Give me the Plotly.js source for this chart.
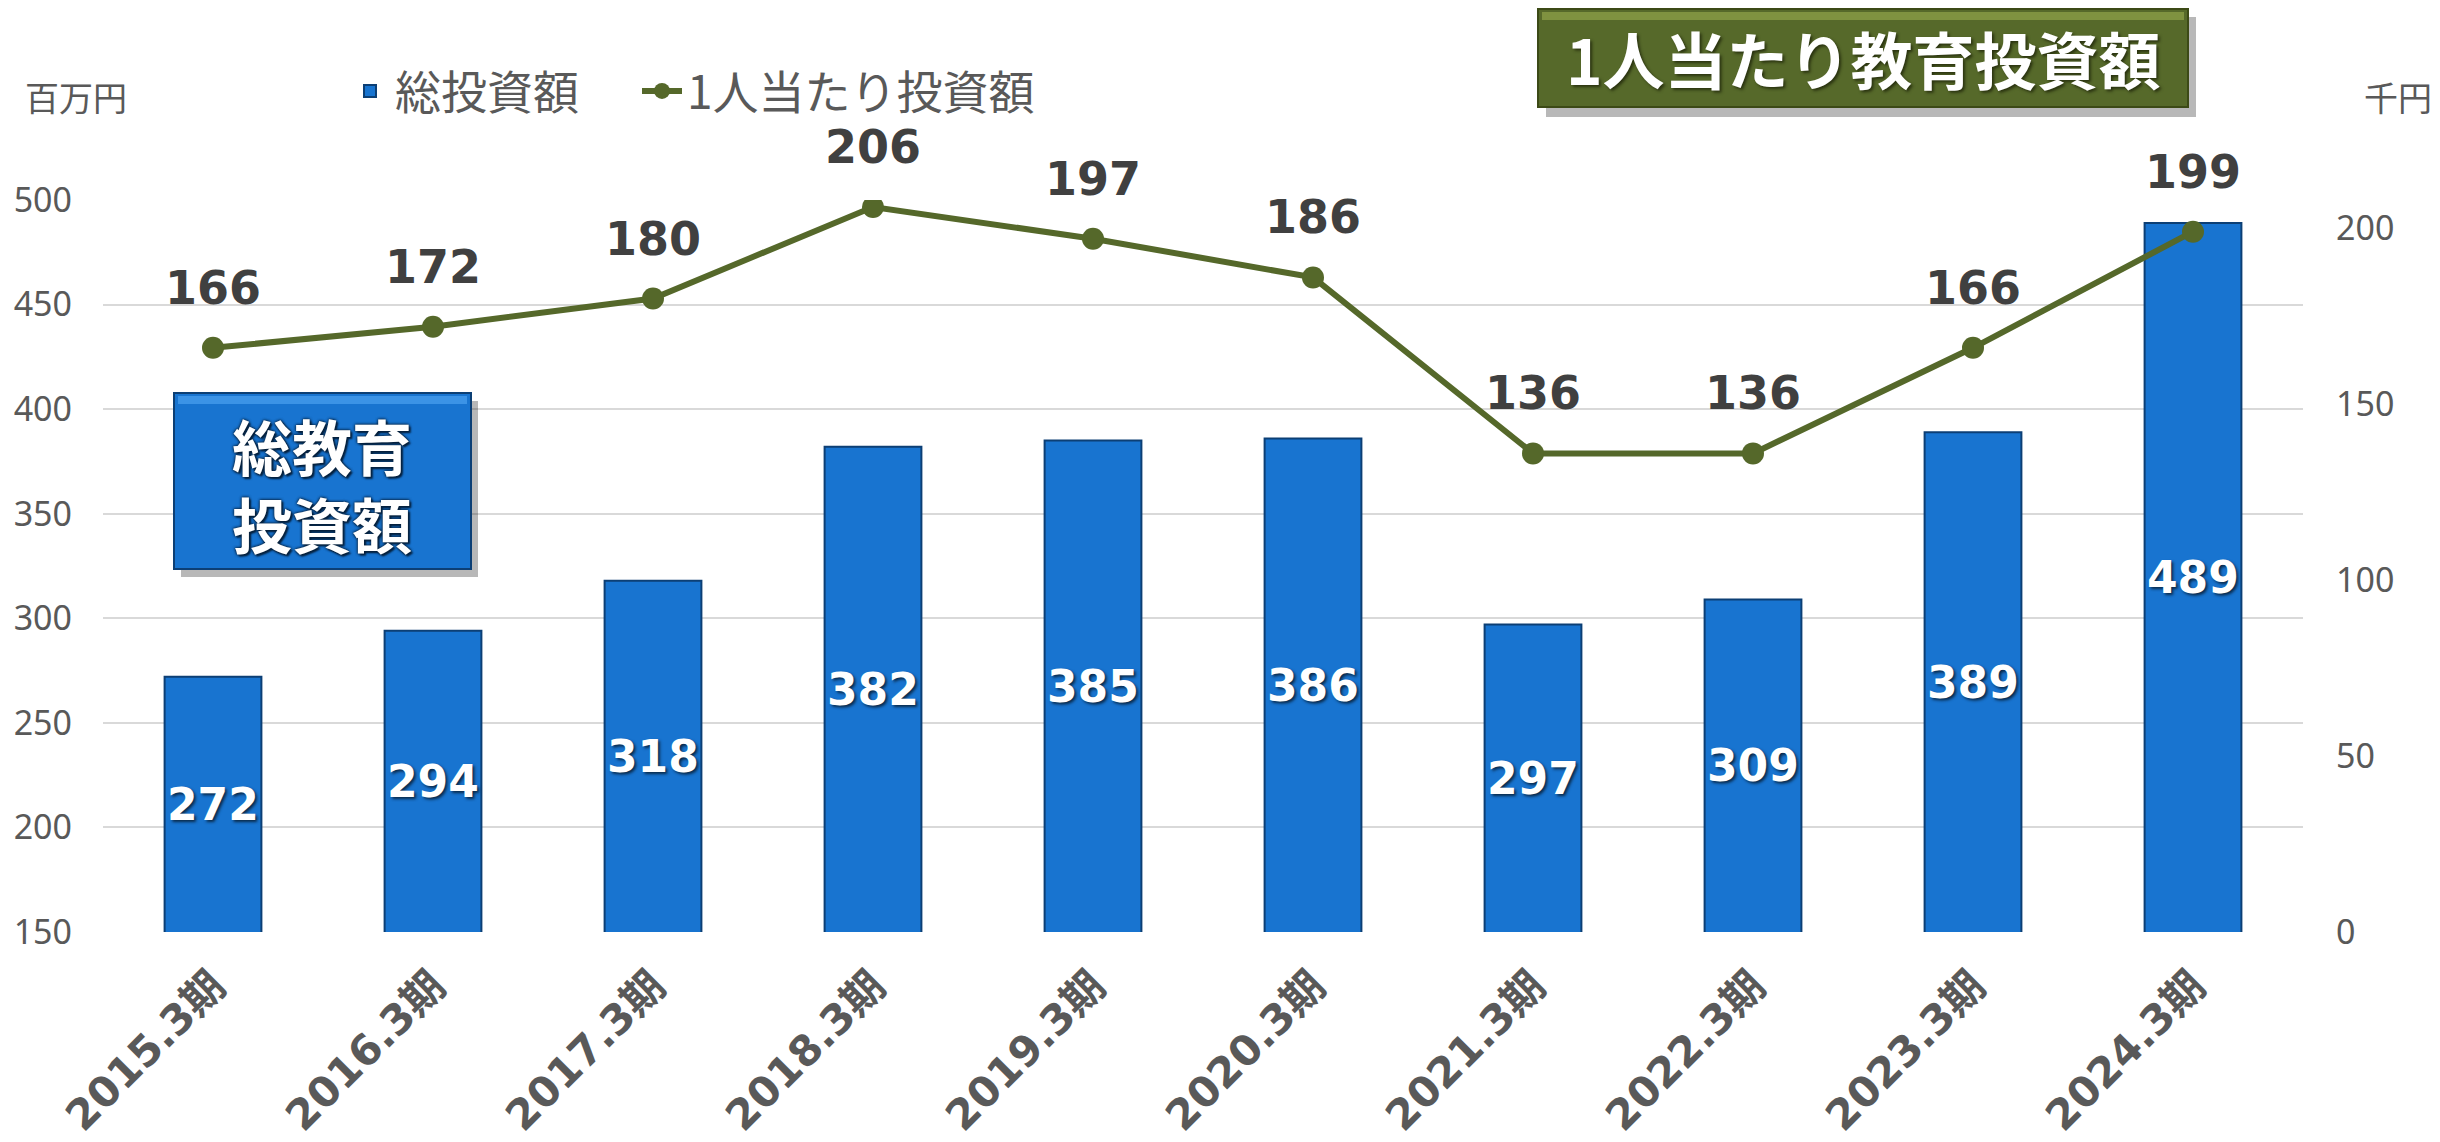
<!DOCTYPE html>
<html>
<head>
<meta charset="utf-8">
<script src="https://cdn.plot.ly/plotly-3.0.1.min.js"></script>
<style>
  html, body { margin: 0; padding: 0; background: #fff; }
  #myDiv { width: 2440px; height: 1142px; }
</style>
</head>
<body>
<div id="myDiv"></div>
<script>
// periodos
var periodos = ["2015.3期", "2016.3期", "2017.3期", "2018.3期", "2019.3期",
                "2020.3期", "2021.3期", "2022.3期", "2023.3期", "2024.3期"];
// 総投資額 (百万円)
var totalInversion = [272, 294, 318, 382, 385, 386, 297, 309, 389, 489];
// 1人当たり投資額 (千円)
var porPersona = [166, 172, 180, 206, 197, 186, 136, 136, 166, 199];

var leftRange = [150, 500];
var leftTicks = [150, 200, 250, 300, 350, 400, 450, 500];
var rightRange = [0, 208];
var rightTicks = [0, 50, 100, 150, 200];

// area del grafico en pixeles
var W = 2440, H = 1142;
var L = 103, R = 137, T = 200, B = 210;
var plotW = W - L - R, plotH = H - T - B;
function px(x) { return (x - L) / plotW; }
function py(y) { return (H - B - y) / plotH; }

var jp = '"Noto Sans CJK JP", "Noto Sans", sans-serif';
var num = '"Noto Sans", "Noto Sans CJK JP", sans-serif';
var bold = '"DejaVu Sans", "Noto Sans CJK JP", sans-serif';
var gris = '#595959';
var oliva = '#55682a';
var azul = '#1874d0';

var trace1 = {
  x: periodos,
  y: totalInversion,
  type: 'bar',
  name: '総投資額',
  legend: 'legend',
  marker: { color: azul, line: { color: '#0c3f75', width: 2 } },
  hoverinfo: 'x+y'
};

var trace2 = {
  x: periodos,
  y: porPersona,
  type: 'scatter',
  mode: 'lines+markers',
  name: '1人当たり投資額',
  legend: 'legend2',
  yaxis: 'y2',
  line: { color: oliva, width: 6 },
  marker: { color: oliva, size: 22 }
};

var etiquetas = [];
// etiquetas de las barras (centro de la parte visible)
for (var i = 0; i < periodos.length; i++) {
  etiquetas.push({
    x: periodos[i], y: (totalInversion[i] + leftRange[0]) / 2, xref: 'x', yref: 'y',
    text: String(totalInversion[i]), showarrow: false, xanchor: 'center', yanchor: 'middle',
    font: { family: bold, size: 44, color: '#ffffff', weight: 'bold',
            shadow: '2px 2px 3px #0a2a4a' }
  });
}
// etiquetas de la linea
for (var i = 0; i < periodos.length; i++) {
  etiquetas.push({
    x: periodos[i], y: porPersona[i], xref: 'x', yref: 'y2',
    text: String(porPersona[i]), showarrow: false, yshift: 60,
    xanchor: 'center', yanchor: 'middle',
    font: { family: bold, size: 46, color: '#404040', weight: 'bold' }
  });
}

var otras = [
  { xref: 'paper', yref: 'paper', x: px(76), y: py(97), text: '百万円', showarrow: false,
    xanchor: 'center', yanchor: 'middle',
    font: { family: jp, size: 34, color: gris } },
  { xref: 'paper', yref: 'paper', x: px(2398), y: py(97), text: '千円', showarrow: false,
    xanchor: 'center', yanchor: 'middle',
    font: { family: jp, size: 34, color: gris } },
  { xref: 'paper', yref: 'paper', x: px(1863), y: py(58), text: '1人当たり教育投資額', showarrow: false,
    xanchor: 'center', yanchor: 'middle',
    font: { family: jp, size: 62, color: '#ffffff', weight: 'bold', shadow: '2px 2px 3px #2a3310' } },
  { xref: 'paper', yref: 'paper', x: px(322), y: py(483), text: '総教育<br>投資額', showarrow: false,
    xanchor: 'center', yanchor: 'middle',
    font: { family: jp, size: 60, color: '#ffffff', weight: 'bold',
            shadow: '0 0 3px #06213d, 0 0 3px #06213d, 2px 2px 2px #06213d' } }
];

var cajas = [
  // sombra + caja verde
  { type: 'rect', xref: 'paper', yref: 'paper', x0: px(1546), x1: px(2196), y0: py(17), y1: py(117),
    fillcolor: 'rgba(0,0,0,0.28)', line: { width: 0 } },
  { type: 'rect', xref: 'paper', yref: 'paper', x0: px(1538), x1: px(2188), y0: py(9), y1: py(107),
    fillcolor: '#56692a', line: { color: '#3c4a16', width: 2 } },
  { type: 'rect', xref: 'paper', yref: 'paper', x0: px(1542), x1: px(2184), y0: py(12), y1: py(20),
    fillcolor: '#7f9240', line: { width: 0 } },
  // sombra + caja azul
  { type: 'rect', xref: 'paper', yref: 'paper', x0: px(181), x1: px(478), y0: py(401), y1: py(577),
    fillcolor: 'rgba(0,0,0,0.28)', line: { width: 0 } },
  { type: 'rect', xref: 'paper', yref: 'paper', x0: px(174), x1: px(471), y0: py(393), y1: py(569),
    fillcolor: azul, line: { color: '#0c3f75', width: 2 } },
  { type: 'rect', xref: 'paper', yref: 'paper', x0: px(178), x1: px(467), y0: py(396), y1: py(404),
    fillcolor: '#3b93e6', line: { width: 0 } }
];

var estiloLeyenda = function (xPix) {
  return {
    orientation: 'h',
    x: px(xPix), xanchor: 'left',
    y: py(91), yanchor: 'middle',
    font: { family: jp, size: 46, color: gris },
    itemwidth: 40,
    bgcolor: 'rgba(0,0,0,0)'
  };
};

var layout = {
  width: W,
  height: H,
  margin: { l: L, r: R, t: T, b: B, pad: 0, autoexpand: false },
  paper_bgcolor: '#ffffff',
  plot_bgcolor: '#ffffff',
  bargap: 0.56,
  showlegend: true,
  legend: estiloLeyenda(345),
  legend2: estiloLeyenda(637),
  xaxis: {
    type: 'category',
    range: [-0.5, periodos.length - 0.5],
    tickangle: -45,
    tickfont: { family: bold, size: 42, color: gris, weight: 'bold' },
    showgrid: false,
    zeroline: false,
    showline: false,
    ticks: '',
    ticklabelstandoff: 20,
    automargin: false
  },
  yaxis: {
    range: leftRange,
    tickvals: leftTicks,
    tickfont: { family: num, size: 34, color: gris },
    gridcolor: '#d9d9d9',
    gridwidth: 2,
    zeroline: false,
    showline: false,
    ticks: '',
    ticklabelstandoff: 30,
    automargin: false
  },
  yaxis2: {
    overlaying: 'y',
    side: 'right',
    range: rightRange,
    tickvals: rightTicks,
    tickfont: { family: num, size: 34, color: gris },
    showgrid: false,
    zeroline: false,
    showline: false,
    ticks: '',
    ticklabelstandoff: 32,
    automargin: false
  },
  annotations: etiquetas.concat(otras),
  shapes: cajas
};

Plotly.newPlot('myDiv', [trace1, trace2], layout, { displayModeBar: false, staticPlot: true });
</script>
</body>
</html>
